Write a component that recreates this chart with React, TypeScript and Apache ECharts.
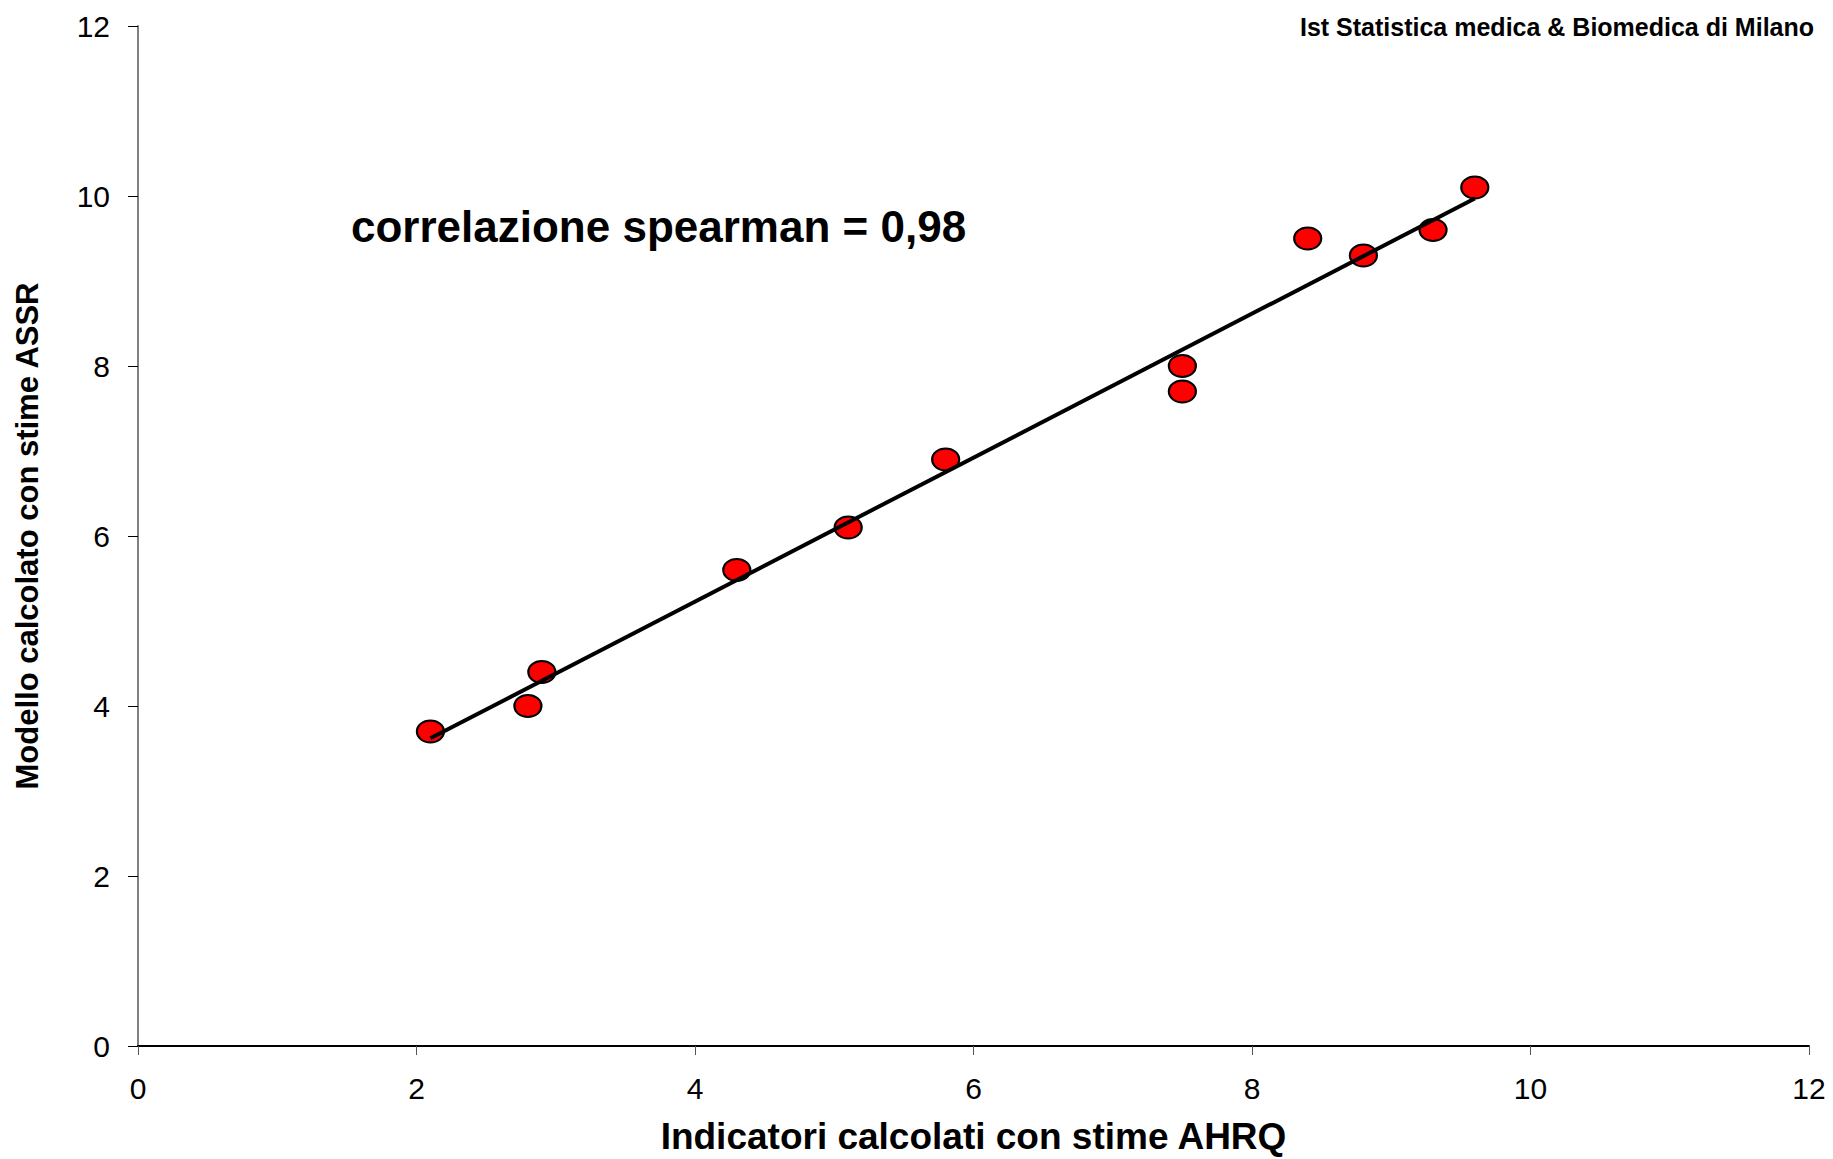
import React, { useEffect, useRef } from "react";
import * as echarts from "echarts";

const xTicks = [0, 2, 4, 6, 8, 10, 12];
const yTicks = [0, 2, 4, 6, 8, 10, 12];
const pointsX = [2.1, 2.8, 2.9, 4.3, 5.1, 5.8, 7.5, 7.5, 8.4, 8.8, 9.3, 9.6];
const pointsY = [3.7, 4.0, 4.4, 5.6, 6.1, 6.9, 8.0, 7.7, 9.5, 9.3, 9.6, 10.1];
const trendX = [2.1, 9.6];
const trendY = [3.62, 9.97];
const xTitle = "Indicatori calcolati con stime AHRQ";
const yTitle = "Modello calcolato con stime ASSR";
const annotation = "correlazione spearman = 0,98";
const credit = "Ist Statistica medica & Biomedica di Milano";

const FONT = "'Liberation Sans', Arial, sans-serif";

export default function App() {
  const ref = useRef<HTMLDivElement>(null);
  useEffect(() => {
    document.body.style.margin = "0";
    const chart = echarts.init(ref.current!, null, { renderer: "svg" });
    const scatterData = pointsX.map((x, i) => [x, pointsY[i]]);
    const trendData = trendX.map((x, i) => [x, trendY[i]]);
    chart.setOption({
      animation: false,
      backgroundColor: "#ffffff",
      textStyle: { fontFamily: FONT },
      grid: {
        left: 138,
        right: 24,
        top: 26,
        bottom: 113,
        containLabel: false,
        outerBoundsMode: "none",
      },
      xAxis: {
        type: "value",
        min: xTicks[0],
        max: xTicks[xTicks.length - 1],
        interval: 2,
        splitLine: { show: false },
        axisLine: { show: true, onZero: false, lineStyle: { color: "#000000", width: 2 } },
        axisTick: { show: true, length: 9, lineStyle: { color: "#555555", width: 1 } },
        axisLabel: { color: "#000000", fontSize: 30, fontFamily: FONT, margin: 27 },
        name: xTitle,
        nameLocation: "middle",
        nameGap: 72,
        nameTextStyle: { color: "#000000", fontSize: 37, fontWeight: "bold", fontFamily: FONT },
      },
      yAxis: {
        type: "value",
        min: yTicks[0],
        max: yTicks[yTicks.length - 1],
        interval: 2,
        splitLine: { show: false },
        axisLine: { show: true, onZero: false, lineStyle: { color: "#808080", width: 2 } },
        axisTick: { show: true, length: 10, lineStyle: { color: "#000000", width: 1 } },
        axisLabel: { color: "#000000", fontSize: 30, fontFamily: FONT, margin: 28 },
        name: yTitle,
        nameLocation: "middle",
        nameGap: 95,
        nameTextStyle: { color: "#000000", fontSize: 31, fontWeight: "bold", fontFamily: FONT },
      },
      series: [
        {
          type: "scatter",
          data: scatterData,
          symbol: "path://M0,50a50,50 0 1,0 100,0a50,50 0 1,0 -100,0z",
          symbolSize: [27, 22],
          itemStyle: { color: "#ff0000", borderColor: "#000000", borderWidth: 2, opacity: 1 },
          z: 2,
        },
        {
          type: "line",
          data: trendData,
          showSymbol: false,
          symbol: "none",
          lineStyle: { color: "#000000", width: 4 },
          z: 3,
        },
      ],
      graphic: [
        {
          type: "text",
          left: 351,
          top: 204,
          style: { text: annotation, fill: "#000000", font: `bold 44px ${FONT}` },
        },
        {
          type: "text",
          left: 1300,
          top: 14,
          style: { text: credit, fill: "#000000", font: `bold 25px ${FONT}` },
        },
      ],
    });
    return () => chart.dispose();
  }, []);
  return <div ref={ref} style={{ position: "fixed", left: 0, top: 0, width: 1833, height: 1159 }} />;
}
